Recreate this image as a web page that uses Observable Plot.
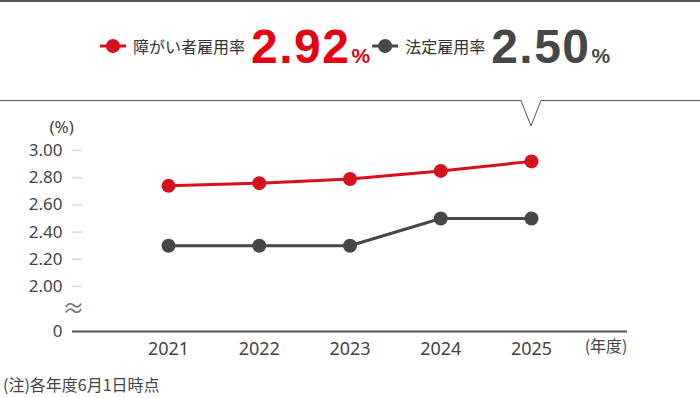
<!DOCTYPE html>
<html><head><meta charset="utf-8">
<script src="https://cdn.jsdelivr.net/npm/d3@7"></script>
<script src="https://cdn.jsdelivr.net/npm/@observablehq/plot@0.6"></script>
<style>
body{margin:0;background:#fff;font-family:"Noto Sans CJK JP","Noto Sans",sans-serif;}
#wrap{position:relative;width:700px;height:398px;overflow:hidden;background:#fff;}
#plot{position:absolute;left:0;top:100px;}
#header{position:absolute;left:0;top:0;}
#note{position:absolute;left:3px;top:373px;font-size:16px;line-height:22px;color:#444;white-space:nowrap;}
</style></head>
<body>
<div id="wrap"><div id="plot"></div><svg id="header" width="700" height="130"></svg><div id="note"></div></div>
<script>
const years = [2021, 2022, 2023, 2024, 2025];
const disabledRate = [2.74, 2.76, 2.79, 2.85, 2.92];
const legalRate = [2.30, 2.30, 2.30, 2.50, 2.50];
const seriesNames = ["障がい者雇用率", "法定雇用率"];
const seriesColors = ["#d7101d", "#474747"];
const numberColors = ["#e60012", "#474747"];
const yTickValues = [2.0, 2.2, 2.4, 2.6, 2.8, 3.0];
const yZeroLabel = "0";
const yUnit = "(%)";
const xUnit = "(年度)";
const noteText = "(注)各年度6月1日時点";

const yZero = 1.669;   // where the broken axis shows "0"
const yTop = 3.0;
const xDomain = [2019.942, 2026.058];
const font = '"Noto Sans CJK JP","Noto Sans",sans-serif';
const numFont = '"Noto Sans","Noto Sans CJK JP",sans-serif';

const data = [];
years.forEach((y, i) => {
  data.push({year: y, value: disabledRate[i], series: seriesNames[0]});
  data.push({year: y, value: legalRate[i], series: seriesNames[1]});
});

const chart = Plot.plot({
  width: 700, height: 272,
  marginLeft: 72, marginRight: 73, marginTop: 50, marginBottom: 41,
  x: {type: "linear", domain: xDomain, axis: null},
  y: {domain: [yZero, yTop], axis: null},
  color: {domain: seriesNames, range: seriesColors},
  style: {fontFamily: font, background: "transparent", color: "#444", overflow: "visible"},
  marks: [
    Plot.tickY(yTickValues, {y: d => d, stroke: "#d8d8d8", strokeWidth: 1.5, insetRight: 545}),
    Plot.axisY(yTickValues, {label: null, tickSize: 0, tickPadding: 10, tickFormat: d => d.toFixed(2), fontSize: 17, fontFamily: numFont, fill: "#444"}),
    Plot.axisY([yZero], {label: null, tickSize: 0, tickPadding: 10, tickFormat: () => yZeroLabel, fontSize: 17, fontFamily: numFont, fill: "#444"}),
    Plot.text([yUnit], {frameAnchor: "top-left", lineAnchor: "middle", dx: -23, dy: -23, fontSize: 17, fontFamily: numFont, fill: "#444"}),
    Plot.text(["≈"], {x: xDomain[0], y: (yTickValues[0] + yZero) / 2, dx: 1, fontSize: 22, fill: "#777"}),
    Plot.ruleY([yZero], {stroke: "#555", strokeWidth: 2}),
    Plot.axisX(years, {label: null, tickSize: 0, tickPadding: 11, tickFormat: d => String(d), fontSize: 18, fontFamily: numFont, fill: "#444"}),
    Plot.text([xUnit], {frameAnchor: "bottom-right", textAnchor: "end", dy: 20, fontSize: 16, fill: "#444"}),
    Plot.line(data, {x: "year", y: "value", z: "series", stroke: "series", strokeWidth: 3}),
    Plot.dot(data, {x: "year", y: "value", fill: "series", r: 7})
  ]
});
document.getElementById("plot").appendChild(chart);
document.getElementById("note").textContent = noteText;

// header callout
const svg = d3.select("#header");
const notchX = chart.scale("x").apply(years[years.length - 1]);
svg.append("line").attr("x1", 0).attr("x2", 700).attr("y1", 1).attr("y2", 1).attr("stroke", "#555").attr("stroke-width", 2);
svg.append("path")
  .attr("d", `M0,100.5H${notchX - 10}L${notchX},126L${notchX + 10},100.5H700`)
  .attr("fill", "#fff").attr("stroke", "#555").attr("stroke-width", 1);

const latest = [disabledRate[disabledRate.length - 1], legalRate[legalRate.length - 1]];
let x = 100;
seriesNames.forEach((name, i) => {
  const g = svg.append("g");
  g.append("line").attr("x1", x).attr("x2", x + 26).attr("y1", 46).attr("y2", 46)
    .attr("stroke", seriesColors[i]).attr("stroke-width", 3);
  g.append("circle").attr("cx", x + 13).attr("cy", 46).attr("r", 7).attr("fill", seriesColors[i]);
  x += 33;
  const t1 = g.append("text").attr("x", x).attr("y", 53).attr("font-family", font)
    .attr("font-size", 16).attr("fill", "#333").text(name);
  x += t1.node().getComputedTextLength() + 6;
  const t2 = g.append("text").attr("x", x).attr("y", 63)
    .attr("font-family", '"Liberation Sans",Arial,sans-serif').attr("font-weight", "bold")
    .attr("font-size", 48).attr("letter-spacing", 1.5).attr("fill", numberColors[i]).text(latest[i].toFixed(2));
  x += t2.node().getComputedTextLength() + 1;
  const t3 = g.append("text").attr("x", x).attr("y", 63)
    .attr("font-family", '"Liberation Sans",Arial,sans-serif').attr("font-weight", "bold")
    .attr("font-size", 21).attr("fill", numberColors[i]).text("%");
  x += t3.node().getComputedTextLength() + 2;
});
</script>
</body></html>
